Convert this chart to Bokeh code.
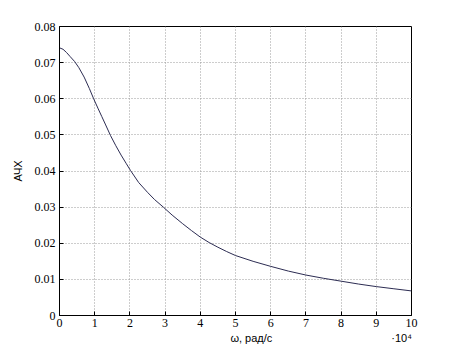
from bokeh.plotting import figure
from bokeh.models import FixedTicker, ColumnDataSource, LinearAxis, Range1d
from bokeh.embed import file_html
from bokeh.resources import INLINE

# omega in units of 1e4 rad/s, and amplitude response values
omega = [0.0, 0.1, 0.2, 0.3, 0.43, 0.55, 0.7, 0.85, 0.97, 1.1, 1.2, 1.3, 1.45,
         1.6, 1.75, 1.9, 2.02, 2.25, 2.5, 2.7, 2.95, 3.2, 3.5, 3.75, 4.0,
         4.25, 4.5, 4.75, 5.0, 5.5, 6.0, 6.5, 7.0, 7.5, 8.0, 8.5, 9.0, 9.5, 10.0]
achx = [0.0741, 0.0737, 0.0728, 0.0717, 0.0703, 0.0686, 0.0660, 0.0628, 0.0600,
        0.0572, 0.0551, 0.0530, 0.0498, 0.0470, 0.0444, 0.0420, 0.0401, 0.0368,
        0.0341, 0.0321, 0.0300, 0.0278, 0.0254, 0.0235, 0.0217, 0.0202, 0.0189,
        0.0177, 0.0166, 0.0150, 0.0136, 0.0123, 0.0112, 0.0103, 0.0095, 0.0087,
        0.0080, 0.0074, 0.0068]

x_ticks = [0, 1, 2, 3, 4, 5, 6, 7, 8, 9, 10]
y_ticks = [0, 0.01, 0.02, 0.03, 0.04, 0.05, 0.06, 0.07, 0.08]
y_tick_labels = ["0", "0.01", "0.02", "0.03", "0.04", "0.05", "0.06", "0.07", "0.08"]
x_title = "ω, рад/с"
x_multiplier = "·10⁴"

p = figure(width=455, height=354, output_backend="svg", toolbar_location=None,
           x_range=(0, 10), y_range=(0, 0.08))
p.min_border_left = 59
p.min_border_right = 44
p.min_border_top = 26
p.min_border_bottom = 39
p.background_fill_color = "white"
p.border_fill_color = "white"
p.outline_line_color = "black"
p.outline_line_width = 1

src = ColumnDataSource(dict(x=omega, y=achx))
p.line("x", "y", source=src, line_color="#2c2c52", line_width=1)

p.xaxis.ticker = FixedTicker(ticks=x_ticks)
p.yaxis.ticker = FixedTicker(ticks=y_ticks)
p.yaxis.major_label_overrides = {t: s for t, s in zip(y_ticks, y_tick_labels)}

for ax in (p.xaxis[0], p.yaxis[0]):
    ax.major_tick_in = 4
    ax.major_tick_out = 0
    ax.minor_tick_in = 0
    ax.minor_tick_out = 0
    ax.axis_line_color = "black"
    ax.major_tick_line_color = "black"
    ax.major_label_text_font = "Liberation Serif"
    ax.major_label_text_font_size = "12px"
    ax.major_label_text_color = "black"
    ax.axis_label_text_font = "Liberation Sans"
    ax.axis_label_text_font_size = "11px"
    ax.axis_label_text_font_style = "normal"
    ax.axis_label_text_color = "black"

p.xaxis.major_label_standoff = 3
p.yaxis.major_label_standoff = 4
p.yaxis.axis_label = "АЧХ"
p.yaxis.axis_label_standoff = 8

# secondary "axis" below carrying the x title and the ·10⁴ multiplier
p.extra_x_ranges = {"lab": Range1d(0, 10)}
lab_pos = [5.45, 9.72]
lab_axis = LinearAxis(x_range_name="lab", ticker=FixedTicker(ticks=lab_pos))
lab_axis.major_label_overrides = {lab_pos[0]: x_title, lab_pos[1]: x_multiplier}
lab_axis.axis_line_color = None
lab_axis.major_tick_line_color = None
lab_axis.minor_tick_line_color = None
lab_axis.major_tick_in = 0
lab_axis.major_tick_out = 0
lab_axis.major_label_standoff = 2
lab_axis.major_label_text_font = "Liberation Sans"
lab_axis.major_label_text_font_size = "11px"
lab_axis.major_label_text_color = "black"
p.add_layout(lab_axis, "below")

p.xgrid.ticker = FixedTicker(ticks=x_ticks)
p.ygrid.ticker = FixedTicker(ticks=y_ticks)
for g in (p.xgrid[0], p.ygrid[0]):
    g.grid_line_color = "#9a9a9a"
    g.grid_line_dash = "1 2"
    g.grid_line_width = 1

open("out.html", "w").write(file_html(p, INLINE))
